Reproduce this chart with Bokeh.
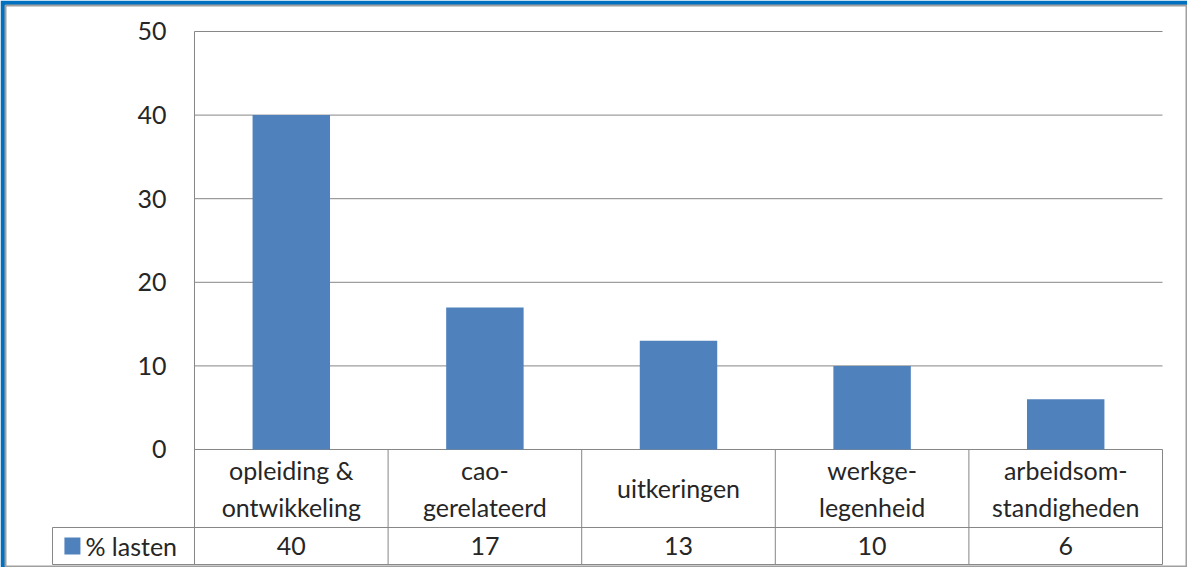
import numpy as np
from bokeh.plotting import figure
from bokeh.models import Range1d
from bokeh.core.properties import value
from bokeh.embed import file_html
from bokeh.resources import INLINE

# ---- data ----
categories = ["opleiding &\nontwikkeling", "cao-\ngerelateerd", "uitkeringen",
              "werkge-\nlegenheid", "arbeidsom-\nstandigheden"]
values = [40, 17, 13, 10, 6]
series_name = "% lasten"
y_ticks = [0, 10, 20, 30, 40, 50]
y_tick_labels = ["0", "10", "20", "30", "40", "50"]

# ---- style / layout ----
BAR = "#4F81BD"
GRID = "#868686"
TXT = "#262626"
FONT = value("Lato")
FS = "25px"

ROW1 = -9.33    # bottom of category-label row
ROW2 = -13.76   # bottom of value row
X_LEG = -0.7335 # left edge of legend cell

n = len(categories)
centers = np.arange(n) + 0.5

p = figure(width=1187, height=567, output_backend="svg", toolbar_location=None,
           x_range=Range1d(-0.9762, 5.1291), y_range=Range1d(-14.115, 53.11),
           min_border_left=5, min_border_top=5, min_border_right=0, min_border_bottom=0,
           border_fill_color="#0070C0", background_fill_color="white",
           outline_line_color="#A0A0A0", outline_line_width=2)
p.xaxis.visible = False
p.yaxis.visible = False
p.xgrid.visible = False
p.ygrid.visible = False

# gridlines (incl. baseline)
p.segment(x0=0, x1=n, y0=y_ticks, y1=y_ticks, line_color=GRID, line_width=1)

# bars
p.vbar(x=centers, top=values, width=0.4, bottom=0, fill_color=BAR, line_color=None)

# table lines
p.segment(x0=[X_LEG, X_LEG], x1=[n, n], y0=[ROW1, ROW2], y1=[ROW1, ROW2],
          line_color=GRID, line_width=1)
p.segment(x0=[0], x1=[0], y0=[max(y_ticks)], y1=[ROW2], line_color=GRID, line_width=1)
xs = list(range(1, n + 1))
p.segment(x0=xs, x1=xs, y0=[0] * n, y1=[ROW2] * n, line_color=GRID, line_width=1)
p.segment(x0=[X_LEG], x1=[X_LEG], y0=[ROW1], y1=[ROW2], line_color=GRID, line_width=1)

# y tick labels
p.text(x=[-0.1446] * len(y_ticks), y=y_ticks, text=y_tick_labels,
       text_align="right", text_baseline="middle", text_font=FONT,
       text_font_size=FS, text_color=TXT)

# category labels
p.text(x=centers, y=[ROW1 / 2] * n, text=categories, text_align="center",
       text_baseline="middle", text_font=FONT, text_font_size=FS,
       text_color=TXT, text_line_height=1.24)

# values row
mid2 = (ROW1 + ROW2) / 2
p.text(x=centers, y=[mid2] * n, text=[str(v) for v in values], text_align="center",
       text_baseline="middle", text_font=FONT, text_font_size=FS, text_color=TXT)

# legend key
p.rect(x=[-0.6305], y=[mid2], width=16, height=17, width_units="screen",
       height_units="screen", fill_color=BAR, line_color=None)
p.text(x=[-0.5635], y=[mid2], text=[series_name], text_align="left",
       text_baseline="middle", text_font=FONT, text_font_size=FS, text_color=TXT)

open("out.html", "w").write(file_html(p, INLINE))
